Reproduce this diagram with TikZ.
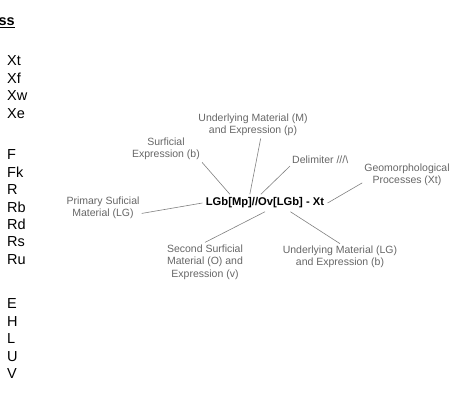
\documentclass[tikz,border=0pt]{standalone}
\usepackage{fontspec}
\setmainfont{Liberation Sans}
\definecolor{labelgrey}{gray}{0.4}
\definecolor{linegrey}{gray}{0.5}

\begin{document}
\begin{tikzpicture}[x=1pt,y=-1pt,
label/.style={align=center,text=labelgrey,font=\fontsize{10.5}{12.5}\selectfont,inner sep=2pt},
codeitem/.style={anchor=base west,font=\fontsize{14.5}{17}\selectfont,inner sep=0pt}]
\useasboundingbox (0,0) rectangle (459,414);
\pgfmathsetmacro{\sor}{17.4}
\node[anchor=base east,inner sep=0pt,font=\fontsize{14.5}{17}\selectfont\bfseries](title) at (15,25.5){\underline{ss}};
\foreach \t [count=\i] in {Xt,Xf,Xw,Xe}
  \node[codeitem](x-\t) at (7,66+\sor*\i-\sor){\t};
\foreach \t [count=\i] in {F,Fk,R,Rb,Rd,Rs,Ru}
  \node[codeitem](f-\t) at (7,160+\sor*\i-\sor){\t};
\foreach \t [count=\i] in {E,H,L,U,V}
  \node[codeitem](e-\t) at (7,309+\sor*\i-\sor){\t};
\node[font=\fontsize{11.2}{13}\selectfont\bfseries](code) at (265,203){LGb[Mp]//Ov[LGb] - Xt};
\node[label](primary) at (103,208){Primary Suficial\\Material (LG)};
\node[label](surficial) at (166,149){Surficial\\Expression (b)};
\node[label](under-m) at (253,125){Underlying Material (M)\\and Expression (p)};
\node[label,anchor=west](delimiter) at (290,160){Delimiter ///\textbackslash};
\node[label](geo) at (407,175){Geomorphological\\Processes (Xt)};
\node[label](second) at (205,262){Second Surficial\\Material (O) and\\Expression (v)};
\node[label](under-lg) at (340,257){Underlying Material (LG)\\and Expression (b)};
\begin{scope}[linegrey, line width=0.6pt]
\draw (primary.-8)--(code.west);
\draw (surficial.south east)--(code.166);
\draw (under-m.-60)--(code.150);
\draw (delimiter.south west)--(code.115);
\draw (geo.190)--(code.east);
\draw (second.north)--(code.south);
\draw (under-lg.north)--(code.-19);
\end{scope}
\end{tikzpicture}
\end{document}
